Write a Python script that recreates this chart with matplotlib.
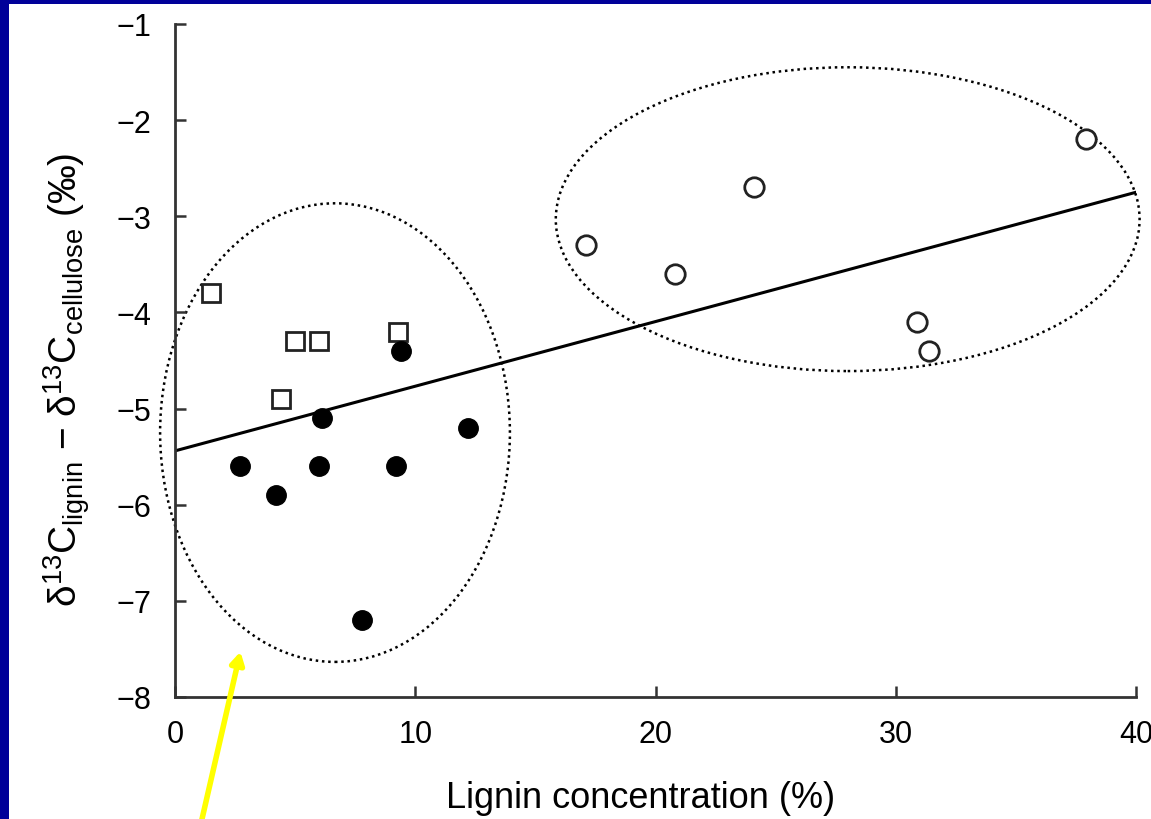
import matplotlib
matplotlib.use("Agg")
import matplotlib.pyplot as plt
from matplotlib.patches import Ellipse, Rectangle
import numpy as np

plt.rcParams['font.family'] = ['Liberation Sans', 'DejaVu Sans']
plt.rcParams['mathtext.fontset'] = 'custom'
plt.rcParams['mathtext.rm'] = 'Liberation Sans'
plt.rcParams['mathtext.it'] = 'Liberation Sans'

# open squares
sq_x = [1.5, 5.0, 6.0, 4.4, 9.3]
sq_y = [-3.8, -4.3, -4.3, -4.9, -4.2]
# filled circles
fc_x = [2.7, 4.2, 6.1, 6.0, 7.8, 9.4, 9.2, 12.2]
fc_y = [-5.6, -5.9, -5.1, -5.6, -7.2, -4.4, -5.6, -5.2]
# open circles
oc_x = [17.1, 20.8, 24.1, 30.9, 31.4, 37.9]
oc_y = [-3.3, -3.6, -2.7, -4.1, -4.4, -2.2]
# regression line
fit_x = [0, 40]
fit_y = [-5.44, -2.75]

fig = plt.figure(figsize=(11.51, 8.2), dpi=100)
fig.patch.set_facecolor('white')
# blue slide border (left and top)
fig.patches.append(Rectangle((0, 0), 9/1151, 1, transform=fig.transFigure,
                             facecolor='#000099', edgecolor='none', zorder=-10))
fig.patches.append(Rectangle((0, 1 - 5/820), 1, 5/820, transform=fig.transFigure,
                             facecolor='#000099', edgecolor='none', zorder=-10))

ax = fig.add_axes([175/1151, 122/820, 961/1151, 673/820])
ax.set_facecolor('none')
ax.set_xlim(0, 40)
ax.set_ylim(-8, -1)
for s in ['top', 'right']:
    ax.spines[s].set_visible(False)
for s in ['left', 'bottom']:
    ax.spines[s].set_linewidth(2)
    ax.spines[s].set_color('#333333')
ax.tick_params(direction='in', length=8, width=1.8, color='#333333', labelsize=22)
ax.tick_params(axis='x', pad=16)
ax.tick_params(axis='y', pad=17)
ax.set_xticks([0, 10, 20, 30, 40])
ax.set_yticks(range(-8, 0))
ax.set_yticklabels(['\u2212%d' % abs(v) for v in range(-8, 0)])

ax.plot(fit_x, fit_y, color='black', lw=2.2, zorder=2)
ax.plot(sq_x, sq_y, 's', ms=12.5, mfc='white', mec='#222222', mew=2, zorder=3)
ax.plot(fc_x, fc_y, 'o', ms=14, mfc='black', mec='black', zorder=3)
ax.plot(oc_x, oc_y, 'o', ms=14, mfc='white', mec='#222222', mew=2, zorder=3)

ax.add_patch(Ellipse((6.66, -5.25), 14.56, 4.77, fill=False, ls=(0, (1, 1.5)),
                     lw=1.8, color='black', clip_on=False))
ax.add_patch(Ellipse((28.0, -3.03), 24.3, 3.16, fill=False, ls=(0, (1, 1.5)),
                     lw=1.8, color='black', clip_on=False))

ax.set_xlabel('Lignin concentration (%)', fontsize=26, labelpad=22)
ax.xaxis.label.set_x(0.484)
ylab = ('\u03b4$^{13}$C$_{\\mathrm{lignin}}$ \u2212 '
        '\u03b4$^{13}$C$_{\\mathrm{cellulose}}$ (\u2030)')
ax.set_ylabel(ylab, fontsize=28, labelpad=18)
ax.yaxis.label.set_y(0.473)

# yellow arrow
ax.annotate('', xy=(2.75, -7.5), xytext=(1.05, -9.35), xycoords='data', textcoords='data',
            arrowprops=dict(arrowstyle='-|>,head_length=0.7,head_width=0.4', color='yellow', lw=4),
            annotation_clip=False)

fig.savefig('out.png', dpi=100, facecolor=fig.get_facecolor())
